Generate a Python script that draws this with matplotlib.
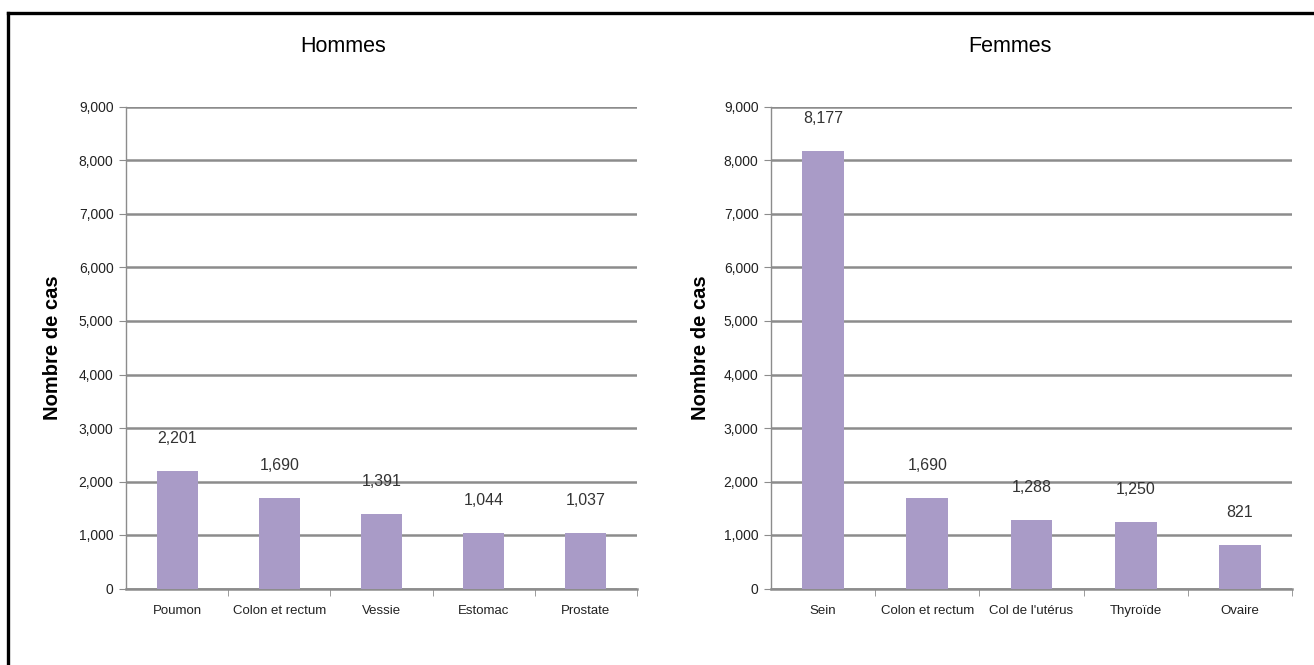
import matplotlib
matplotlib.use("Agg")
import matplotlib.pyplot as plt
from matplotlib.ticker import FuncFormatter, MultipleLocator
from matplotlib.lines import Line2D

# Data
men_sites = ["Poumon", "Colon et rectum", "Vessie", "Estomac", "Prostate"]
men_cases = [2201, 1690, 1391, 1044, 1037]
women_sites = ["Sein", "Colon et rectum", "Col de l'utérus", "Thyroïde", "Ovaire"]
women_cases = [8177, 1690, 1288, 1250, 821]
titles = ["Hommes", "Femmes"]
ylabel = "Nombre de cas"

BAR = "#A99BC7"
GRID = "#8c8c8c"
FONT = ["Liberation Sans Narrow", "Liberation Sans", "DejaVu Sans"]
plt.rcParams["font.family"] = FONT

fig = plt.figure(figsize=(13.14, 6.65), dpi=100)

# outer frame (top and left edges)
fig.add_artist(Line2D([8/1314, 1], [1 - 13/665, 1 - 13/665], color="black", lw=2.4,
                      transform=fig.transFigure))
fig.add_artist(Line2D([8/1314, 8/1314], [0, 1 - 13/665], color="black", lw=2.4,
                      transform=fig.transFigure))

boxes = [(126/1314, 76.5/665, 511/1314, 481.5/665),
         (771/1314, 76.5/665, 521/1314, 481.5/665)]
data = [(men_sites, men_cases), (women_sites, women_cases)]
ylabel_x = [52/1314, 701/1314]
title_x = [343/1314, 1010/1314]

fmt = FuncFormatter(lambda v, p: f"{int(v):,}")

for i, (box, (sites, cases)) in enumerate(zip(boxes, data)):
    ax = fig.add_axes(box)
    x = list(range(len(sites)))
    ax.bar(x, cases, width=0.4, color=BAR, zorder=3)
    ax.set_xlim(-0.5, len(sites) - 0.5)
    ax.set_ylim(0, 9000)
    ax.yaxis.set_major_locator(MultipleLocator(1000))
    ax.yaxis.set_major_formatter(fmt)
    ax.yaxis.grid(True, color=GRID, lw=1.8, zorder=0)
    ax.set_axisbelow(True)
    for s in ["top", "right"]:
        ax.spines[s].set_visible(False)
    ax.spines["left"].set_color(GRID)
    ax.spines["left"].set_linewidth(1.0)
    ax.spines["bottom"].set_color(GRID)
    ax.spines["bottom"].set_linewidth(1.8)
    ax.tick_params(axis="y", length=5, color=GRID, labelsize=10, pad=4, labelcolor="#222222")
    ax.set_xticks(x)
    ax.set_xticklabels(sites, fontsize=9.5, color="#222222")
    ax.tick_params(axis="x", length=0, pad=12)
    ax.set_xticks([v + 0.5 for v in x], minor=True)
    ax.tick_params(axis="x", which="minor", length=5, color=GRID)
    for xi, v in zip(x, cases):
        ax.annotate(f"{v:,}", (xi, v), xytext=(0, 18), textcoords="offset points",
                    ha="center", va="bottom", fontsize=11.5, color="#333333")
    fig.text(ylabel_x[i], (76.5 + 481.5 / 2) / 665, ylabel, rotation=90,
             ha="center", va="center", fontsize=14.5, fontweight="bold",
             family=["Liberation Sans", "DejaVu Sans"])
    fig.text(title_x[i], 1 - 47/665, titles[i], ha="center", va="center",
             fontsize=15.5, color="black")

fig.savefig("out.png", dpi=100)
